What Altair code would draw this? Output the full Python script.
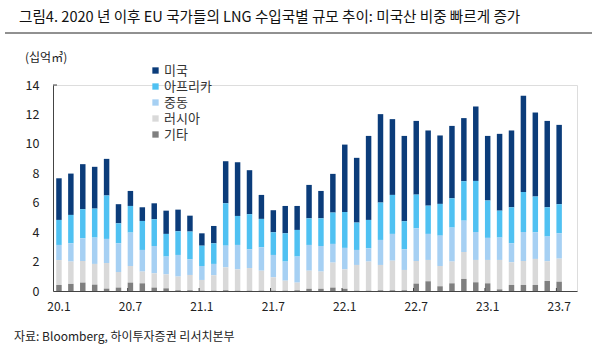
import altair as alt
import pandas as pd

months = [f"{y}.{m}" for y in range(20, 24) for m in range(1, 13)][:43]
slots = months + ["23.8"]  # empty slot at the right end of the axis

series_names = ["미국", "아프리카", "중동", "러시아", "기타"]
colors = ["#0b3c7a", "#4fc1f2", "#a6d0f3", "#d9d9d9", "#7f7f7f"]

usa = [2.83, 2.81, 3.06, 2.84, 2.49, 1.30, 1.02, 0.93, 1.08, 1.58, 1.47, 1.08,
       0.84, 1.18, 2.86, 3.65, 2.99, 1.63, 1.50, 1.86, 1.63, 2.27, 1.86, 2.63,
       4.58, 4.40, 5.71, 6.01, 5.15, 5.80, 5.01, 5.11, 4.65, 4.92, 4.29, 5.06,
       4.39, 5.22, 5.22, 6.54, 5.71, 5.87, 5.39]
africa = [1.70, 1.93, 1.98, 1.97, 2.95, 1.36, 1.81, 1.97, 1.82, 1.54, 1.61, 1.89,
          1.38, 1.40, 2.88, 1.97, 2.39, 1.93, 1.54, 1.92, 1.81, 1.81, 1.88, 2.13,
          2.44, 1.86, 1.93, 2.54, 2.65, 1.91, 2.29, 1.92, 2.16, 1.99, 2.68, 3.47,
          2.54, 1.83, 2.45, 2.72, 2.43, 1.99, 1.98]
mideast = [1.03, 1.24, 1.54, 1.79, 1.64, 1.95, 2.27, 1.47, 1.86, 1.21, 1.47, 1.06,
           0.95, 0.77, 1.47, 1.66, 1.27, 1.59, 1.52, 1.30, 1.77, 1.75, 1.74, 1.27,
           1.46, 1.02, 0.90, 1.70, 1.82, 1.40, 2.22, 1.77, 2.06, 2.31, 2.13, 1.90,
           1.50, 1.52, 1.29, 1.97, 1.81, 1.68, 1.72]
russia = [1.69, 1.52, 1.47, 1.41, 1.74, 1.06, 1.13, 0.80, 0.97, 0.95, 0.93, 1.04,
          0.73, 1.05, 1.56, 1.45, 1.54, 1.36, 0.91, 0.68, 0.52, 1.23, 1.17, 1.70,
          1.32, 1.75, 1.98, 1.72, 2.01, 1.38, 1.54, 1.45, 1.38, 1.48, 1.83, 1.52,
          1.59, 2.00, 1.54, 1.63, 1.77, 1.34, 1.57]
other = [0.41, 0.48, 0.57, 0.43, 0.16, 0.23, 0.57, 0.52, 0.23, 0.18, 0.05, 0.05,
         0.02, 0.02, 0.05, 0.02, 0.02, 0.02, 0.02, 0.02, 0.05, 0.15, 0.15, 0.23,
         0.15, 0.02, 0.02, 0.05, 0.05, 0.05, 0.50, 0.66, 0.32, 0.52, 0.82, 0.59,
         0.52, 0.11, 0.41, 0.41, 0.41, 0.68, 0.63]

tick_labels = ["20.1", "20.7", "21.1", "21.7", "22.1", "22.7", "23.1", "23.7"]
y_ticks = [0, 2, 4, 6, 8, 10, 12, 14]

title_text = "그림4. 2020 년 이후 EU 국가들의 LNG 수입국별 규모 추이: 미국산 비중 빠르게 증가"
unit_text = "(십억㎥)"
source_text = "자료: Bloomberg, 하이투자증권 리서치본부"

FONT = "Noto Sans CJK KR"

rows = []
series_values = [usa, africa, mideast, russia, other]
stack_order = {"기타": 0, "러시아": 1, "중동": 2, "아프리카": 3, "미국": 4}
for name, vals in zip(series_names, series_values):
    for m, v in zip(months, vals):
        rows.append({"month": m, "series": name, "value": v, "ord": stack_order[name]})
df = pd.DataFrame(rows)

W, H = 524, 206

xscale = alt.Scale(domain=slots, paddingInner=0.54, paddingOuter=0.27)
yscale = alt.Scale(domain=[0, 14], nice=False)

xaxis = alt.Axis(values=tick_labels, labelAngle=0, ticks=False,
                 labelPadding=10, labelFontSize=12, labelFont=FONT,
                 labelColor="#222", domainColor="#444", title=None,
                 labelOverlap=False)

bars = alt.Chart(df).mark_bar().encode(
    x=alt.X("month:N", scale=xscale, sort=slots, axis=xaxis),
    y=alt.Y("value:Q", stack="zero", scale=yscale,
            axis=alt.Axis(values=y_ticks, ticks=False, grid=False, labelPadding=14,
                          labelFontSize=12.5, labelFont=FONT, labelColor="#222",
                          domainColor="#444", title=None, labelOverlap=False,
                          labelBound=False)),
    color=alt.Color("series:N",
                    scale=alt.Scale(domain=series_names, range=colors),
                    legend=alt.Legend(orient="none", legendX=96, legendY=-21,
                                      title=None, symbolType="square", symbolSize=40,
                                      symbolStrokeWidth=0, labelFont=FONT,
                                      labelFontSize=13, labelColor="#333",
                                      labelOffset=2, rowPadding=2)),
    order=alt.Order("ord:Q", sort="ascending"),
)

tick_df = pd.DataFrame({"month": tick_labels[1:]})
xticks = alt.Chart(tick_df).mark_rule(color="#444", strokeWidth=1).encode(
    x=alt.X("month:N", scale=xscale, sort=slots, bandPosition=0, axis=xaxis),
    y=alt.value(H),
    y2=alt.value(H - 3),
)

# small cap at the top end of the y axis (value 14 = top of plot)
ycap = alt.Chart(pd.DataFrame({"v": [14]})).mark_rule(color="#444").encode(
    y=alt.value(0),
    x=alt.value(0),
    x2=alt.value(4),
)

title = alt.Chart(pd.DataFrame({"t": [title_text]})).mark_text(
    align="left", baseline="middle", fontSize=14.6, font=FONT, color="#111"
).encode(text="t:N", x=alt.value(-34), y=alt.value(-67))

line = alt.Chart(pd.DataFrame({"a": [0]})).mark_rule(color="#222", strokeWidth=1).encode(
    x=alt.value(-48), x2=alt.value(539), y=alt.value(-52)
)

unit = alt.Chart(pd.DataFrame({"t": [unit_text]})).mark_text(
    align="left", baseline="middle", fontSize=12, font=FONT, color="#222"
).encode(text="t:N", x=alt.value(-28), y=alt.value(-27))

source = alt.Chart(pd.DataFrame({"t": [source_text]})).mark_text(
    align="left", baseline="middle", fontSize=12, font=FONT, color="#222"
).encode(text="t:N", x=alt.value(-39), y=alt.value(252))

chart = alt.layer(bars, xticks, ycap, title, line, unit, source).properties(
    width=W, height=H,
    padding={"left": 53, "top": 85, "right": 23, "bottom": 60},
    autosize="none",
).configure_view(stroke=None).configure(background="white")

chart.save("out.html", embed_options={"renderer": "svg", "actions": False})
